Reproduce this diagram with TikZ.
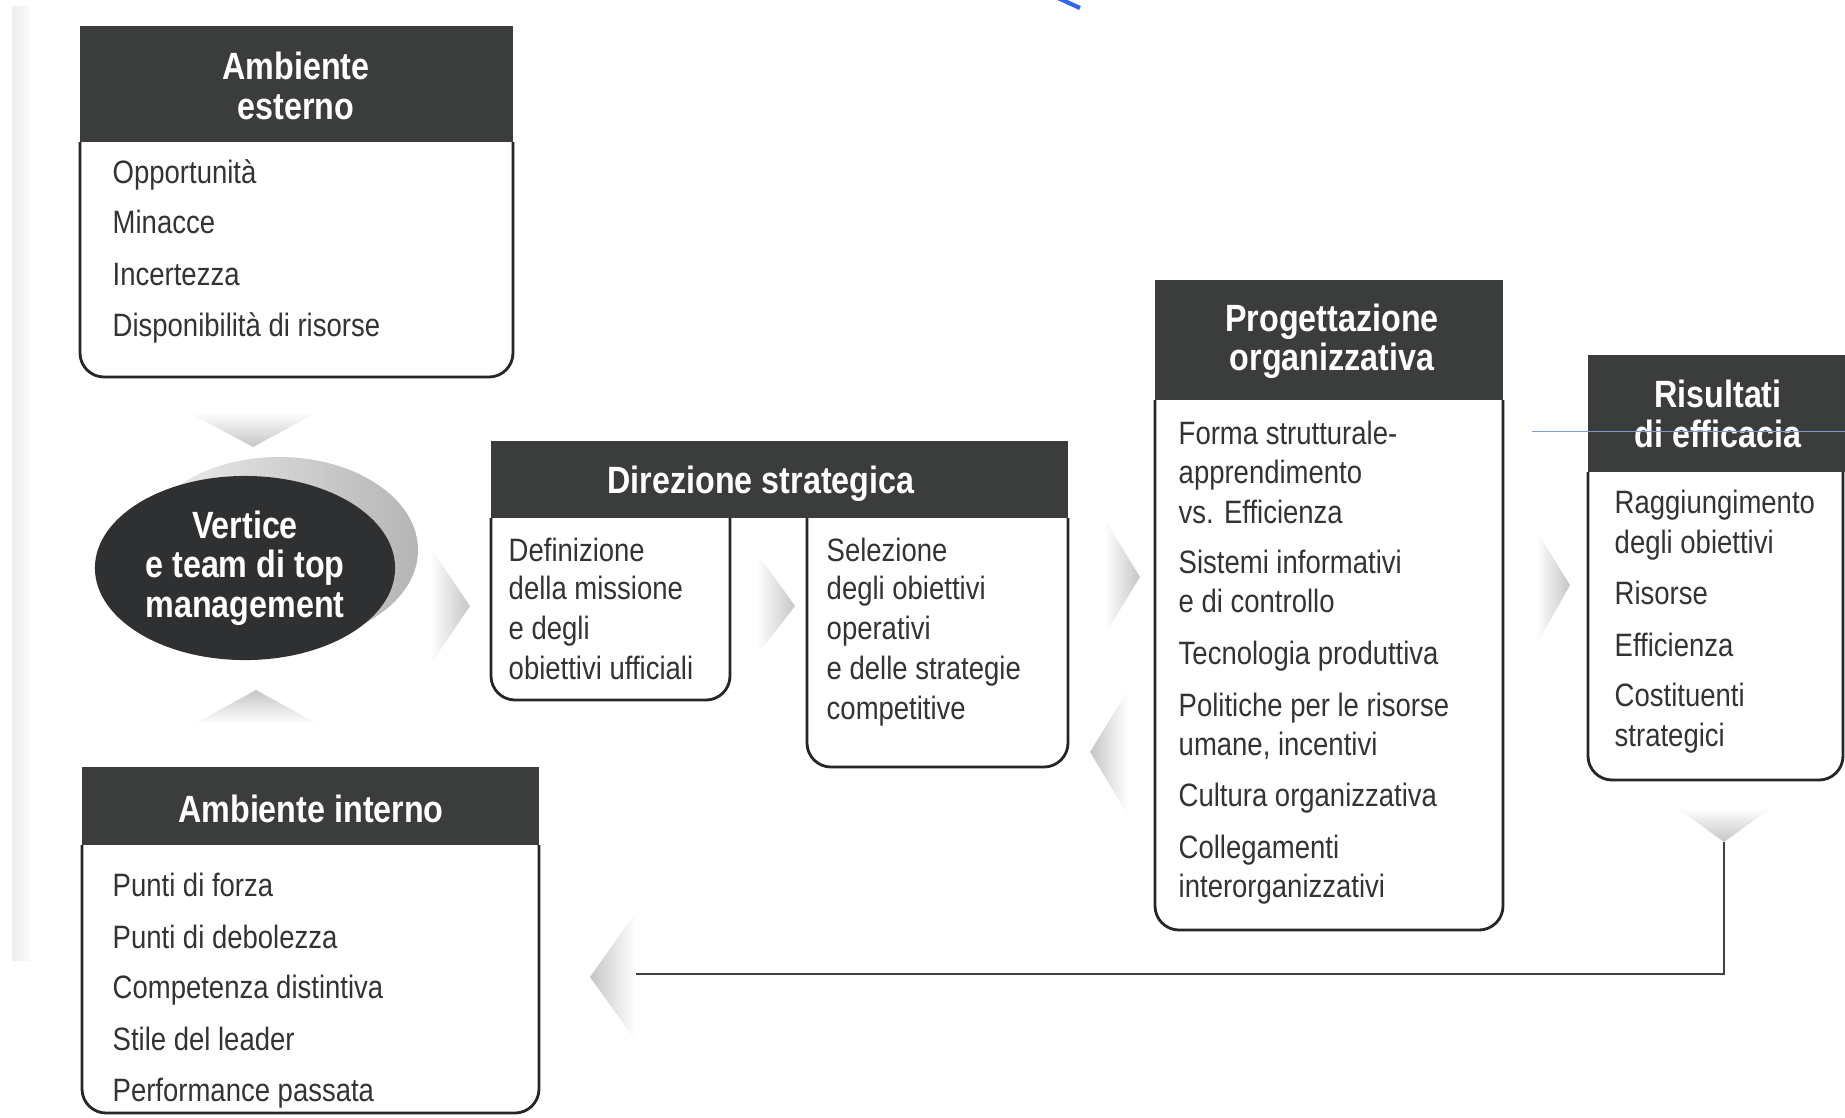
\documentclass[tikz,border=0pt]{standalone}
\usepackage{fontspec}
\setmainfont{Liberation Sans}[FakeStretch=0.85]
\usetikzlibrary{shapes.geometric}

\definecolor{hdrgray}{HTML}{3A3D3C}
\definecolor{ovalgray}{HTML}{2E3032}
\definecolor{txtgray}{HTML}{333333}
\definecolor{inkblue}{HTML}{3366EE}
\definecolor{thinblue}{HTML}{7F9CD0}

\tikzset{
  hdr/.style={fill=hdrgray},
  boxline/.style={draw=black!85, line width=0.8pt, rounded corners=2.4mm},
  title/.style={text=white, font=\bfseries\fontsize{10.8}{11.2}\selectfont,
    align=center, inner sep=0pt},
  item/.style={anchor=mid west, text=txtgray,
    font=\fontsize{9.2}{11}\selectfont, inner sep=0pt},
  oval/.style={ellipse, fill=ovalgray, inner sep=0pt},
  chevR/.style={left color=white, right color=gray!45},
  chevL/.style={left color=gray!45, right color=white},
  chevD/.style={top color=white, bottom color=gray!45},
  chevU/.style={top color=gray!45, bottom color=white},
  fbline/.style={draw=black!75, line width=0.8pt}
}

\begin{document}
\begin{tikzpicture}[x=0.01cm, y=-0.01cm]
      \useasboundingbox (0,0) rectangle (1845,1117);
      \shade[left color=gray!14, right color=gray!4] (12,6) rectangle (30,960);

      % Ambiente esterno
      \draw[boxline] (80,142) -- (80,377) -- (513,377) -- (513,142);
      \fill[hdr] (80,26) rectangle (513,142);
      \node[title] (ae) at (296,86) {Ambiente\\esterno};
      \foreach \y/\t [count=\i] in {174/Opportunità, 224/Minacce,
        276/Incertezza, 327/Disponibilità di risorse}
        \node[item] (ae-\i) at (112,\y) {\t};

      % Vertice
      \shade[left color=gray!12, right color=gray!58] (279,550)
        ellipse [x radius=139, y radius=93];
      \node[oval, minimum width=3cm, minimum height=1.84cm, title]
        (vertice) at (245,568) {Vertice\\e team di top\\management};

      % Direzione strategica
      \draw[boxline] (491,518) -- (491,700) -- (730,700) -- (730,518);
      \draw[boxline] (807,518) -- (807,767) -- (1068,767) -- (1068,518);
      \fill[hdr] (491,441) rectangle (1068,518);
      \node[title] (ds) at (761,484) {Direzione strategica};
      \foreach \y/\t [count=\i] in {552/Definizione, 590/della missione,
        630/e degli, 670/obiettivi ufficiali}
        \node[item] (ds-a\i) at (508,\y) {\t};
      \foreach \y/\t [count=\i] in {552/Selezione, 590/degli obiettivi,
        630/operativi, 670/e delle strategie, 710/competitive}
        \node[item] (ds-b\i) at (826,\y) {\t};

      % Progettazione organizzativa
      \draw[boxline] (1155,400) -- (1155,930) -- (1503,930) -- (1503,400);
      \fill[hdr] (1155,280) rectangle (1503,400);
      \node[title] (po) at (1332,341) {Progettazione\\organizzativa};
      \foreach \y/\t [count=\i] in {435/Forma strutturale-, 474/apprendimento,
        514/vs. Efficienza, 564/Sistemi informativi, 603/e di controllo,
        655/Tecnologia produttiva, 707/Politiche per le risorse,
        746/{umane, incentivi}, 797/Cultura organizzativa,
        849/Collegamenti, 888/interorganizzativi}
        \node[item] (po-\i) at (1178,\y) {\t};

      % Risultati di efficacia
      \draw[boxline] (1588,472) -- (1588,780) -- (1843,780) -- (1843,472);
      \fill[hdr] (1588,355) rectangle (1845,472);
      \node[title] (re) at (1718,414) {Risultati\\di efficacia};
      \foreach \y/\t [count=\i] in {504/Raggiungimento, 544/degli obiettivi,
        595/Risorse, 647/Efficienza, 697/Costituenti, 737/strategici}
        \node[item] (re-\i) at (1614,\y) {\t};

      % Ambiente interno
      \draw[boxline] (82,845) -- (82,1113) -- (539,1113) -- (539,845);
      \fill[hdr] (82,767) rectangle (539,845);
      \node[title] (ai) at (311,809) {Ambiente interno};
      \foreach \y/\t [count=\i] in {887/Punti di forza, 939/Punti di debolezza,
        989/Competenza distintiva, 1041/Stile del leader,
        1092/Performance passata}
        \node[item] (ai-\i) at (112,\y) {\t};

      % frecce
      \shade[chevD] (188,412) -- (318,412) -- (253,447) -- cycle;
      \shade[chevU] (194,724) -- (318,724) -- (256,690) -- cycle;
      \shade[chevR] (430,547) -- (470,606) -- (430,665) -- cycle;
      \shade[chevR] (757,553) -- (795,606) -- (757,655) -- cycle;
      \shade[chevR] (1104,518) -- (1140,577) -- (1104,636) -- cycle;
      \shade[chevL] (1128,690) -- (1090,752) -- (1128,815) -- cycle;
      \shade[chevR] (1536,530) -- (1570,585) -- (1536,645) -- cycle;
      \shade[chevD] (1677,808) -- (1771,808) -- (1724,842) -- cycle;
      \shade[chevL] (636,912) -- (590,977) -- (636,1041) -- cycle;

      % retroazione
      \coordinate (fb-top) at (1724,842);
      \coordinate (fb-end) at (636,974);
      \draw[fbline] (fb-top) |- (fb-end);

      % segni a penna
      \draw[inkblue, line width=1.2pt] (1058,-2) -- (1080,8);
      \draw[thinblue, line width=0.25pt] (1532,431) -- (1845,431);
\end{tikzpicture}
\end{document}
